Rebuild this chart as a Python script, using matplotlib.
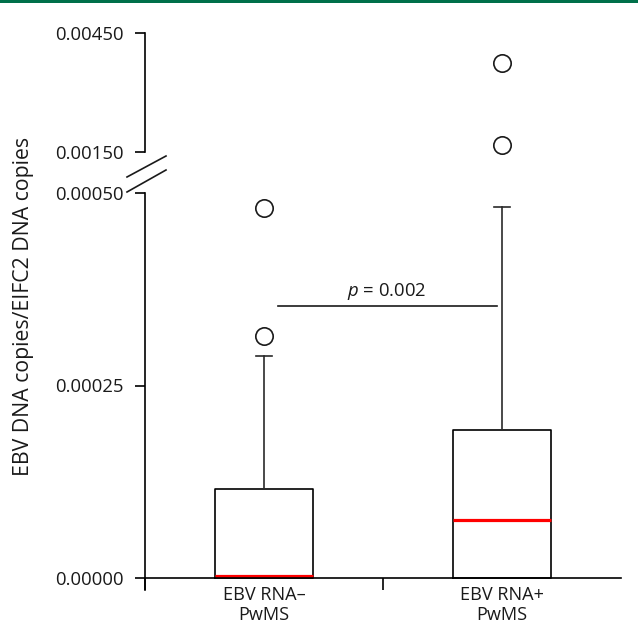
import matplotlib
matplotlib.use("Agg")
import matplotlib.pyplot as plt
from matplotlib.lines import Line2D
from matplotlib.patches import Rectangle

plt.rcParams['font.family'] = ['Open Sans', 'DejaVu Sans']
plt.rcParams['mathtext.fontset'] = 'custom'
plt.rcParams['mathtext.it'] = 'Open Sans:italic'
plt.rcParams['mathtext.rm'] = 'Open Sans'

# ---- data ----
categories = ["EBV RNA\u2013\nPwMS", "EBV RNA+\nPwMS"]
q1_vals = [0.0, 0.0]
median_vals = [0.000002, 0.0000753]
q3_vals = [0.0001156, 0.000192]
whislo_vals = [0.0, 0.0]
whishi_vals = [0.000288, 0.000482]
outliers = [[0.000314, 0.000481], [0.00168, 0.00374]]
yticks_lower = [0.0, 0.00025, 0.0005]
yticks_upper = [0.0015, 0.0045]
p_value_label = "0.002"

W, H = 638, 627
fig = plt.figure(figsize=(W / 100, H / 100), dpi=100)

def fy(px):  # pixel from top -> fig fraction
    return (H - px) / H

left = 145 / W
right = 621 / W
low_bottom_px, low_top_px = 590, 193
ax_lo = fig.add_axes([left, fy(low_bottom_px), right - left, (low_bottom_px - low_top_px) / H])
ax_hi = fig.add_axes([left, fy(152), right - left, (152 - 33) / H])

px_per_unit = (578 - 193) / 0.0005
ymin_lo = -(590 - 578) / px_per_unit

positions = [0.5, 1.5]
ranges = {ax_lo: (ymin_lo, 0.0005), ax_hi: (0.0015, 0.0045)}

for ax, (ylo, yhi) in ranges.items():
    stats = []
    for i in range(len(categories)):
        stats.append(dict(med=median_vals[i], q1=q1_vals[i], q3=q3_vals[i],
                          whislo=whislo_vals[i], whishi=whishi_vals[i],
                          fliers=[v for v in outliers[i] if ylo <= v <= yhi],
                          label=categories[i]))
    art = ax.bxp(stats, positions=positions, widths=0.41, capwidths=0.067,
                 showfliers=True,
                 boxprops=dict(color='black', linewidth=1.2),
                 whiskerprops=dict(color='#2a2a2a', linewidth=1.2),
                 capprops=dict(color='#2a2a2a', linewidth=1.2),
                 medianprops=dict(color='#ff0000', linewidth=2.3),
                 flierprops=dict(marker='o', markersize=12.5, markerfacecolor='white',
                                 markeredgecolor='#1a1a1a', markeredgewidth=1.2,
                                 linestyle='none'))
    for f in art['fliers']:
        f.set_clip_on(False)
    ax.set_xlim(0, 2)
    ax.set_ylim(ylo, yhi)
    for s in ('top', 'right'):
        ax.spines[s].set_visible(False)
    ax.spines['left'].set_linewidth(1.2)
    ax.tick_params(axis='y', length=7.5, width=1.2, pad=8, labelsize=13.3,
                   color='black', labelcolor='#1a1a1a')
    ax.yaxis.set_major_formatter(plt.FuncFormatter(lambda v, p: f"{v:.5f}"))

ax_lo.set_yticks(yticks_lower)
ax_lo.spines['bottom'].set_position(('data', 0))
ax_lo.spines['bottom'].set_linewidth(1.2)
ax_lo.set_xticks([0, 1])
ax_lo.set_xticklabels([])
ax_lo.tick_params(axis='x', which='major', length=8.6, width=1.2, direction='out')
ax_lo.set_xticks(positions, minor=True)
ax_lo.set_xticklabels(categories, minor=True, fontsize=13.1, color='#1a1a1a',
                      linespacing=1.15)
ax_lo.tick_params(axis='x', which='minor', length=0, pad=6)

ax_hi.set_yticks(yticks_upper)
ax_hi.spines['bottom'].set_visible(False)
ax_hi.set_xticks([])

# break marks
for (x0, y0, x1, y1) in [(127, 177, 166, 156), (127, 192, 166, 170)]:
    fig.add_artist(Line2D([x0 / W, x1 / W], [fy(y0), fy(y1)], color='#1a1a1a', lw=1.2))

# significance line + text
ax_lo.plot([0.559, 1.479], [0.0003532, 0.0003532], color='#1a1a1a', lw=1.2)
ax_lo.text(1.017, 0.000366, "$p$ = " + p_value_label, ha='center', va='baseline',
           fontsize=13.3, color='#1a1a1a')

# y label
fig.text(24 / W, fy(306), "EBV DNA copies/EIFC2 DNA copies", rotation=90,
         ha='center', va='center', fontsize=15.3, color='#1a1a1a')

# green top bar
fig.add_artist(Rectangle((0, fy(2.5)), 1, 2.5 / H, transform=fig.transFigure,
                         color='#00704A', lw=0))

fig.savefig("out.png", dpi=100)
